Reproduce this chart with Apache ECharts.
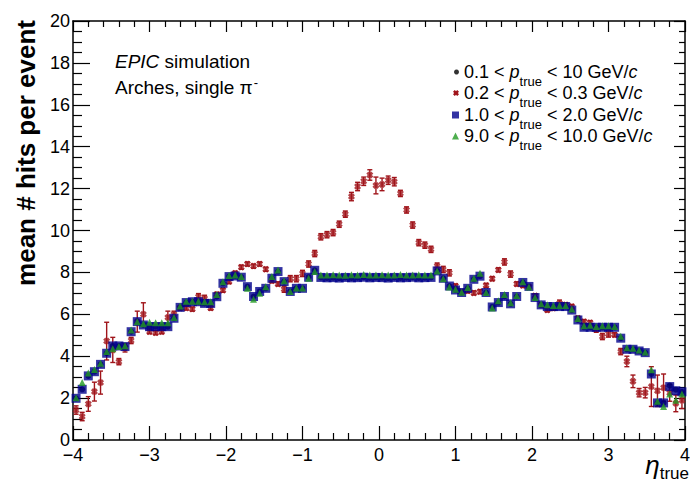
<!DOCTYPE html>
<html>
<head>
<meta charset="utf-8">
<script src="https://cdn.jsdelivr.net/npm/echarts@6/dist/echarts.min.js"></script>
<style>
  html, body { margin: 0; padding: 0; background: #fff; }
  #chart { width: 690px; height: 485px; }
</style>
</head>
<body>
<div id="chart"></div>
<script>
// eta binning of the histograms (100 bins, -4..4)
var etaMin = -4, etaMax = 4, nBins = 100;

// mean # hits per event, one value per eta bin
var blackVals = [
  1.99, 2.42, 3.06, 3.26, 3.61, 4.14, 4.49, 4.49, 4.46, 5.17,
  5.65, 5.49, 5.41, 5.41, 5.41, 5.41, 5.81, 6.33, 6.56, 6.60,
  6.60, 6.52, 6.52, 6.84, 7.48, 7.80, 7.83, 7.77, 7.32, 6.85,
  7.09, 7.24, 7.72, 8.04, 7.56, 7.09, 7.24, 7.24, 7.77, 8.10,
  7.76, 7.74, 7.75, 7.73, 7.76, 7.74, 7.75, 7.77, 7.74, 7.76,
  7.75, 7.73, 7.76, 7.74, 7.75, 7.77, 7.74, 7.75, 7.76, 8.07,
  7.72, 7.35, 7.16, 7.04, 7.24, 7.67, 7.82, 7.04, 6.35, 6.56,
  6.85, 6.50, 6.85, 7.52, 7.33, 6.80, 6.45, 6.37, 6.37, 6.37,
  6.37, 6.20, 5.73, 5.38, 5.38, 5.38, 5.38, 5.38, 5.38, 4.86,
  4.33, 4.33, 4.25, 4.17, 3.15, 1.77, 1.77, 2.60, 2.40, 2.30
];
var redVals = [
  1.43, 1.12, 1.72, 2.31, 2.74, 4.72, 4.30, 3.74, 4.40, 4.75,
  5.65, 6.00, 5.17, 5.12, 5.17, 5.85, 6.00, 6.30, 6.30, 6.25,
  6.84, 6.76, 6.30, 6.95, 7.15, 7.56, 7.96, 8.25, 8.40, 8.30,
  8.40, 8.15, 7.60, 7.45, 7.20, 7.70, 7.70, 7.95, 8.40, 8.90,
  9.70, 9.80, 9.90, 10.30, 10.78, 11.62, 12.10, 12.35, 12.65, 12.15,
  12.20, 12.40, 12.33, 11.77, 10.98, 10.26, 9.42, 9.30, 9.10, 8.30,
  8.14, 7.98, 7.35, 7.08, 7.12, 7.02, 7.08, 7.38, 7.70, 8.12,
  8.50, 7.92, 7.45, 7.38, 7.30, 6.88, 6.45, 6.21, 6.29, 6.53,
  6.45, 6.37, 5.81, 5.65, 5.60, 5.29, 4.94, 5.06, 5.02, 4.22,
  3.75, 2.80, 2.26, 2.26, 2.55, 2.35, 2.50, 2.25, 1.75, 1.90
];
var redErr = [
  0.20, 0.20, 0.35, 0.45, 0.55, 0.90, 0.60, 0.15, 0.20, 0.15,
  0.50, 0.55, 0.10, 0.10, 0.10, 0.30, 0.15, 0.10, 0.10, 0.10,
  0.15, 0.15, 0.10, 0.10, 0.10, 0.10, 0.10, 0.10, 0.10, 0.10,
  0.10, 0.10, 0.10, 0.10, 0.15, 0.15, 0.15, 0.15, 0.15, 0.15,
  0.15, 0.15, 0.15, 0.15, 0.15, 0.20, 0.20, 0.20, 0.25, 0.40,
  0.30, 0.20, 0.20, 0.15, 0.15, 0.15, 0.15, 0.15, 0.15, 0.15,
  0.15, 0.15, 0.10, 0.10, 0.10, 0.10, 0.10, 0.10, 0.10, 0.10,
  0.15, 0.15, 0.10, 0.10, 0.10, 0.10, 0.10, 0.10, 0.10, 0.15,
  0.10, 0.10, 0.10, 0.10, 0.10, 0.15, 0.15, 0.15, 0.10, 0.15,
  0.25, 0.30, 0.20, 0.25, 0.95, 0.75, 0.65, 0.40, 0.40, 0.40
];
var blueVals = [
  1.99, 2.42, 3.06, 3.26, 3.61, 4.14, 4.49, 4.49, 4.46, 5.17,
  5.65, 5.49, 5.41, 5.41, 5.41, 5.41, 5.81, 6.33, 6.56, 6.60,
  6.60, 6.52, 6.52, 6.84, 7.48, 7.80, 7.83, 7.77, 7.32, 6.85,
  7.09, 7.24, 7.72, 8.04, 7.56, 7.09, 7.24, 7.24, 7.77, 8.10,
  7.76, 7.74, 7.75, 7.73, 7.76, 7.74, 7.75, 7.77, 7.74, 7.76,
  7.75, 7.73, 7.76, 7.74, 7.75, 7.77, 7.74, 7.75, 7.76, 8.07,
  7.72, 7.35, 7.16, 7.04, 7.24, 7.67, 7.82, 7.04, 6.35, 6.56,
  6.85, 6.50, 6.85, 7.52, 7.33, 6.80, 6.45, 6.37, 6.37, 6.37,
  6.37, 6.20, 5.73, 5.38, 5.38, 5.38, 5.38, 5.38, 5.38, 4.86,
  4.33, 4.33, 4.25, 4.17, 3.15, 1.77, 1.77, 2.55, 2.35, 2.30
];
var greenVals = [
  2.02, 2.75, 3.20, 3.37, 3.66, 4.22, 4.35, 4.46, 4.50, 5.25,
  5.65, 5.55, 5.62, 5.60, 5.60, 5.60, 5.85, 6.40, 6.62, 6.62,
  6.62, 6.60, 6.60, 6.95, 7.55, 7.85, 7.88, 7.80, 7.24, 6.72,
  7.00, 7.32, 7.80, 8.12, 7.60, 7.09, 7.26, 7.26, 7.72, 8.04,
  7.88, 7.87, 7.89, 7.88, 7.86, 7.89, 7.88, 7.90, 7.87, 7.88,
  7.89, 7.87, 7.88, 7.90, 7.88, 7.87, 7.89, 7.88, 7.87, 8.07,
  7.70, 7.30, 7.20, 7.05, 7.28, 7.72, 7.96, 7.04, 6.30, 6.65,
  6.95, 6.55, 6.90, 7.55, 7.30, 6.80, 6.50, 6.45, 6.42, 6.42,
  6.42, 6.25, 5.80, 5.45, 5.48, 5.42, 5.45, 5.45, 5.42, 4.95,
  4.40, 4.38, 4.30, 4.20, 3.35, 1.85, 1.60, 2.20, 1.90, 2.20
];

var seriesNames = ['all', 'low', 'mid', 'high'];
var legendTexts = [
  '0.1 < {i|p}{s|true} < 10 GeV/{i|c}',
  '0.2 < {i|p}{s|true} < 0.3 GeV/{i|c}',
  '1.0 < {i|p}{s|true} < 2.0 GeV/{i|c}',
  '9.0 < {i|p}{s|true} < 10.0 GeV/{i|c}'
];

var colBlack = '#000000', colRed = '#a0141a', colBlue = '#00008c', colGreen = '#229a22';
var xSymbol = 'path://M0,3 L3,0 L5,2 L7,0 L10,3 L8,5 L10,7 L7,10 L5,8 L3,10 L0,7 L2,5 Z';
var font = 'Liberation Sans, Arial, Helvetica, sans-serif';

var binW = (etaMax - etaMin) / nBins;
function toPoints(vals) {
  return vals.map(function (v, i) { return [etaMin + (i + 0.5) * binW, v]; });
}
var redBars = redVals.map(function (v, i) {
  return [etaMin + (i + 0.5) * binW, v - redErr[i], v + redErr[i]];
});

function minusSign(v) { return String(v).replace('-', '\u2212'); }

function axisX(pos, major, minor, showLabel) {
  return {
    type: 'value', position: pos, min: etaMin, max: etaMax, interval: 1,
    axisLine: { show: true, onZero: false, lineStyle: { color: '#000', width: 1.5 } },
    axisTick: { show: true, inside: true, length: major, lineStyle: { color: '#000', width: 1.2 } },
    minorTick: { show: true, splitNumber: 5, length: minor, lineStyle: { color: '#000', width: 1.2 } },
    splitLine: { show: false },
    axisLabel: { show: showLabel, color: '#000', fontSize: 18, fontFamily: font, margin: 6, formatter: minusSign }
  };
}
function axisY(pos, major, minor, showLabel) {
  return {
    type: 'value', position: pos, min: 0, max: 20, interval: 2,
    axisLine: { show: true, onZero: false, lineStyle: { color: '#000', width: 1.5 } },
    axisTick: { show: true, inside: true, length: major, lineStyle: { color: '#000', width: 1.2 } },
    minorTick: { show: true, splitNumber: 4, length: minor, lineStyle: { color: '#000', width: 1.2 } },
    splitLine: { show: false },
    axisLabel: {
      show: showLabel, color: '#000', fontSize: 18, fontFamily: font, margin: 3,
      lineHeight: 18, padding: [0, 0, 5, 0]
    }
  };
}

var legendRich = {
  i: { fontStyle: 'italic', fontSize: 18, fontFamily: font, color: '#000' },
  s: { fontSize: 13, fontFamily: font, color: '#000', padding: [18, 0, 0, 0] }
};
var legendIcons = ['circle', xSymbol, 'rect', 'triangle'];
var legendIconSize = [5, 6, 7, 7];
var legendRows = [58, 79, 101, 122];
var legends = seriesNames.map(function (name, k) {
  var w = legendIconSize[k];
  return {
    left: 454 - w, top: legendRows[k], itemWidth: w, itemHeight: w,
    selectedMode: false,
    data: [{ name: name, icon: legendIcons[k] }],
    formatter: function () { return legendTexts[k]; },
    textStyle: { fontSize: 18, fontFamily: font, color: '#000', rich: legendRich }
  };
});

var chart = echarts.init(document.getElementById('chart'), null, { renderer: 'svg' });
chart.setOption({
  animation: false,
  backgroundColor: '#fff',
  grid: { left: 73, right: 5, top: 21, bottom: 45, containLabel: false, outerBoundsMode: 'none' },
  xAxis: [axisX('bottom', 14, 7, true), axisX('top', 11, 6, false)],
  yAxis: [axisY('left', 17, 9, true), axisY('right', 11, 6, false)],
  legend: legends,
  graphic: [
    {
      type: 'text', left: 115, top: 48,
      style: {
        text: '{i|EPIC} simulation\nArches, single \u03c0{u|-}',
        fontSize: 19, fontFamily: font, fill: '#000', lineHeight: 26,
        rich: {
          i: { fontStyle: 'italic', fontSize: 19, fontFamily: font },
          u: { fontSize: 13, fontFamily: font, padding: [0, 0, 10, 1] }
        }
      }
    },
    {
      type: 'text', x: 26, y: 153, rotation: Math.PI / 2,
      style: {
        text: 'mean # hits per event', fontSize: 26, fontWeight: 'bold',
        fontFamily: font, fill: '#000', align: 'center', verticalAlign: 'middle'
      }
    },
    {
      type: 'text', right: 1, top: 452,
      style: {
        text: '{e|\u03b7}{s|true}', fill: '#000',
        rich: {
          e: { fontSize: 26, fontStyle: 'italic', fontFamily: font },
          s: { fontSize: 17, fontFamily: font, padding: [16, 0, 0, 0] }
        }
      }
    }
  ],
  series: [
    {
      name: seriesNames[0], type: 'scatter', symbol: 'circle', symbolSize: 6,
      itemStyle: { color: colBlack }, data: toPoints(blackVals), silent: true
    },
    {
      name: seriesNames[1], type: 'custom', silent: true,
      data: redBars, encode: { x: 0, y: [1, 2] },
      itemStyle: { color: colRed },
      renderItem: function (params, api) {
        var x = api.value(0);
        var lo = api.coord([x, api.value(1)]);
        var hi = api.coord([x, api.value(2)]);
        var cap = 2.5;
        var st = { stroke: colRed, lineWidth: 1.4 };
        return {
          type: 'group', children: [
            { type: 'line', shape: { x1: lo[0], y1: lo[1], x2: hi[0], y2: hi[1] }, style: st },
            { type: 'line', shape: { x1: lo[0] - cap, y1: lo[1], x2: lo[0] + cap, y2: lo[1] }, style: st },
            { type: 'line', shape: { x1: hi[0] - cap, y1: hi[1], x2: hi[0] + cap, y2: hi[1] }, style: st }
          ]
        };
      }
    },
    {
      name: seriesNames[1], type: 'scatter', symbol: xSymbol, symbolSize: 7,
      itemStyle: { color: colRed }, data: toPoints(redVals), silent: true
    },
    {
      name: seriesNames[2], type: 'scatter', symbol: 'rect', symbolSize: 9,
      itemStyle: { color: colBlue }, data: toPoints(blueVals), silent: true
    },
    {
      name: seriesNames[3], type: 'scatter', symbol: 'triangle', symbolSize: 7,
      itemStyle: { color: colGreen }, data: toPoints(greenVals), silent: true
    }
  ]
});
</script>
</body>
</html>
